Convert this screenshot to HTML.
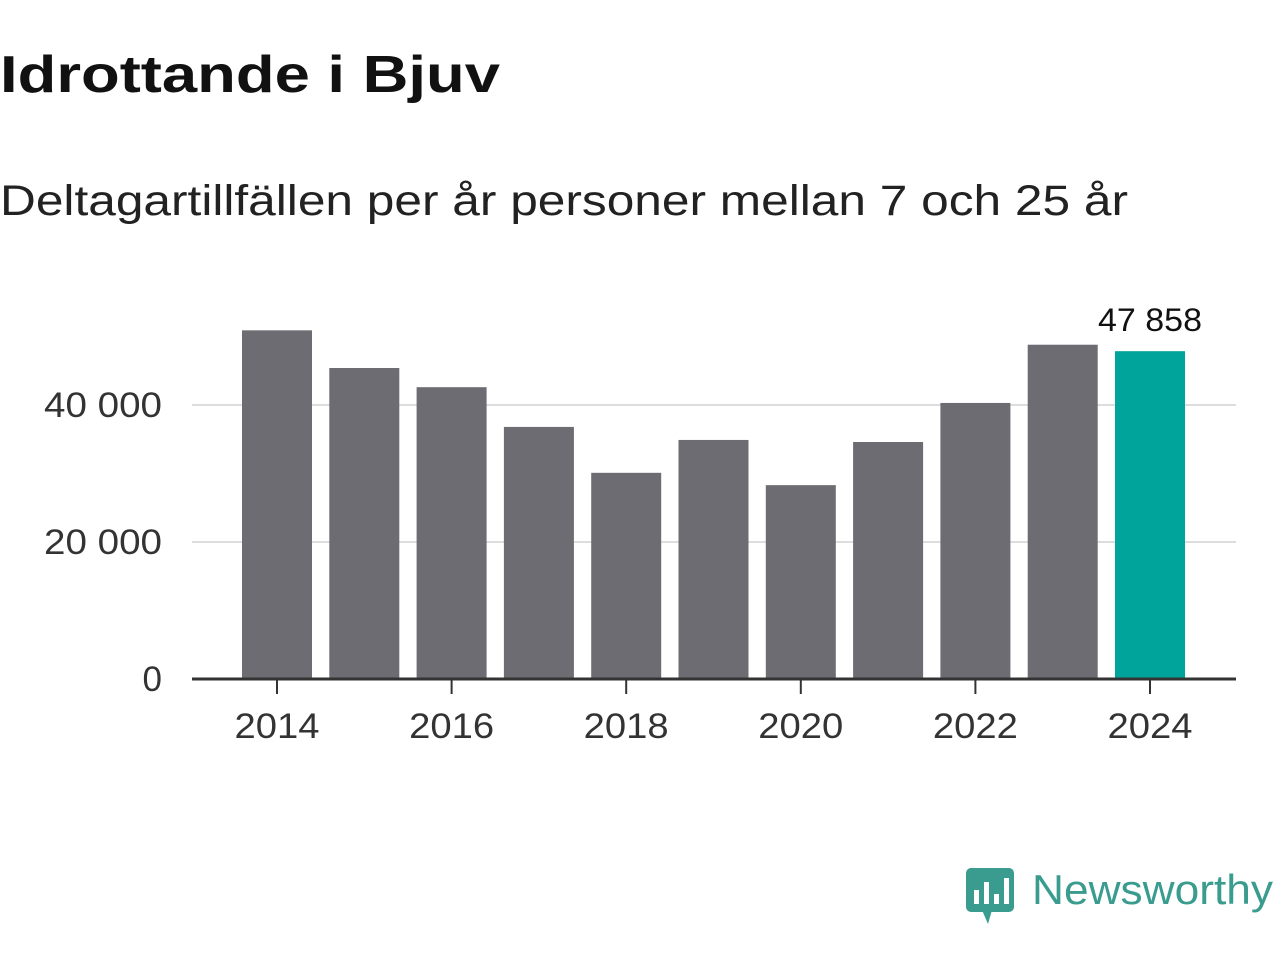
<!DOCTYPE html>
<html><head><meta charset="utf-8"><style>
body{margin:0;width:1280px;height:960px;background:#fff;font-family:"Liberation Sans","DejaVu Sans",sans-serif;overflow:hidden}
</style></head><body>
<svg width="1280" height="960">
<text x="0" y="92" font-size="52" font-weight="bold" fill="#111" textLength="500" lengthAdjust="spacingAndGlyphs">Idrottande i Bjuv</text>
<text x="0" y="215" font-size="43" fill="#222" textLength="1128" lengthAdjust="spacingAndGlyphs">Deltagartillfällen per år personer mellan 7 och 25 år</text>
<g id="grid"></g><g id="bars"></g><g id="axes"></g>
<g>
<rect x="966" y="868" width="48" height="44" rx="5" fill="#3a9b8f"/>
<polygon points="982,910 992,910 988,924" fill="#3a9b8f"/>
<rect x="974" y="890" width="5" height="14" fill="#fff"/><rect x="984" y="882" width="5" height="22" fill="#fff"/><rect x="994" y="894" width="5" height="10" fill="#fff"/><rect x="1004" y="878" width="5" height="26" fill="#fff"/>
<text x="1032" y="904" font-size="42" fill="#3a9b8f" textLength="241" lengthAdjust="spacingAndGlyphs">Newsworthy</text>
</g>
</svg>
<script>
const years=[2014,2015,2016,2017,2018,2019,2020,2021,2022,2023,2024];
const values=[50900,45400,42600,36800,30100,34900,28300,34600,40300,48800,47858];
const yTicks=[0,20000,40000];
const yTickLabels=["0","20 000","40 000"];
const xTicks=[2014,2016,2018,2020,2022,2024];
const ns="http://www.w3.org/2000/svg";
const y=v=>679-v*274/40000;
const x=yr=>277+(yr-2014)*87.3;
function mk(t,a,p){const e=document.createElementNS(ns,t);for(const k in a)e.setAttribute(k,a[k]);p.appendChild(e);return e;}
const g=document.getElementById('grid'),b=document.getElementById('bars'),ax=document.getElementById('axes');
yTicks.forEach((v,i)=>{
 if(v>0){const l=mk('line',{x1:192,x2:1236,y1:y(v),y2:y(v),stroke:'#ddd','stroke-width':2},g);
 
 }
 const t=mk('text',{x:162,y:y(v)+12,'font-size':35,fill:'#333','text-anchor':'end'},ax);t.textContent=yTickLabels[i];
 if(v>0){t.setAttribute('textLength',118);t.setAttribute('lengthAdjust','spacingAndGlyphs');}
 
 
});
years.forEach((yr,i)=>{
 const last=i===years.length-1;
 const r=mk('rect',{x:x(yr)-35,y:y(values[i]),width:70,height:679-y(values[i]),fill:last?'#00a49a':'#6d6c72'},b);
 
 
 if(last){const t=mk('text',{x:x(yr),y:y(values[i])-20,'font-size':32,fill:'#111','text-anchor':'middle',textLength:104,lengthAdjust:'spacingAndGlyphs'},b);
 t.textContent=values[i].toString().replace(/\B(?=(\d{3})+(?!\d))/g,' ');
 
 }
});
const al=mk('line',{x1:192,x2:1236,y1:679,y2:679,stroke:'#333','stroke-width':3},ax);


xTicks.forEach(yr=>{
 mk('line',{x1:x(yr),x2:x(yr),y1:679,y2:694,stroke:'#333','stroke-width':2},ax);
 const t=mk('text',{x:x(yr),y:738,'font-size':35,fill:'#333','text-anchor':'middle',textLength:85,lengthAdjust:'spacingAndGlyphs'},ax);t.textContent=yr;
 
 
});
</script>
</body></html>
